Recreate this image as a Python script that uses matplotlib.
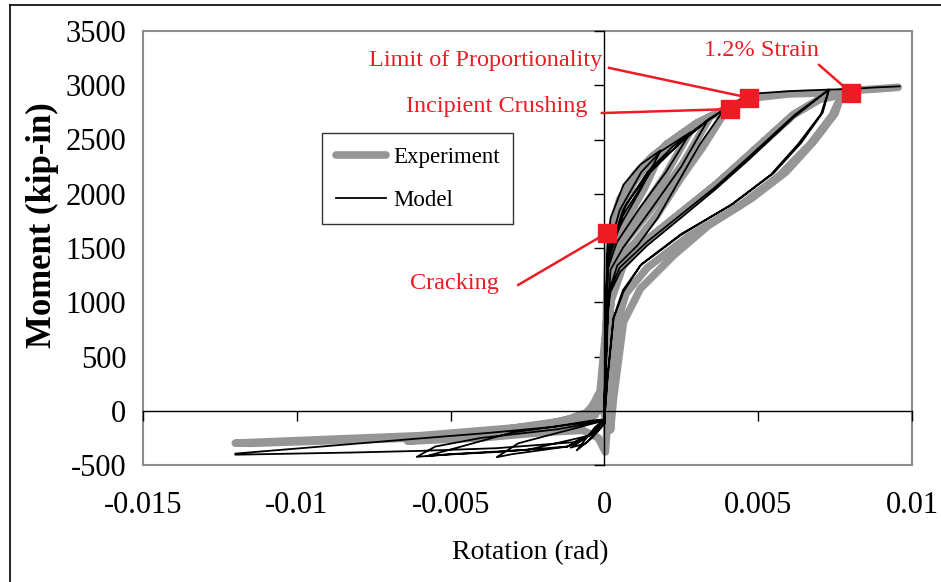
import numpy as np
import matplotlib
matplotlib.use("Agg")
import matplotlib.pyplot as plt
from matplotlib.lines import Line2D

# experiment path (rotation in rad, moment in kip-in)
exp_rot = [0, 0.00005, 0.0001, 0.0002, 0.0005, 0.001, 0.0015, 0.0019,
           0.0013, 0.0007, 0.0002, 0.0001, 0.00003,
           -0.0002, -0.0006, -0.0012, -0.0016, -0.0008, -0.0002,
           0.0001, 0.0002, 0.0006, 0.0013, 0.0021, 0.0028,
           0.0020, 0.0011, 0.0004, 0.00015, 0.00005,
           -0.0002, -0.0005, -0.002, -0.0035, -0.002, -0.0005, -0.0001,
           0.0001, 0.0003, 0.0008, 0.0016, 0.0026, 0.0034,
           0.0026, 0.0015, 0.0005, 0.0002, 0.00005,
           -0.0002, -0.0005, -0.003, -0.0064, -0.004, -0.002, -0.0007, -0.0002, 0.00003, 0.0001,
           0.00015, 0.0004, 0.001, 0.002, 0.003, 0.0040,
           0.0032, 0.0025, 0.0017, 0.001, 0.0004, 0.00015, 0.00003,
           -0.0003, -0.001, -0.0006, -0.0001,
           0.0001, 0.0003, 0.001, 0.002, 0.003, 0.0040, 0.0047, 0.006, 0.0072, 0.0077,
           0.0074, 0.0067, 0.0057, 0.0044, 0.0027, 0.0014, 0.0007, 0.0004, 0.00015,
           0.0001, -0.0002, -0.0005, -0.0012, -0.003, -0.006, -0.012,
           -0.0115, -0.006, -0.003, -0.0012, -0.0003, 0.0001,
           0.0002, 0.0006, 0.0014, 0.0025, 0.0036, 0.0047, 0.0061, 0.0070, 0.0077,
           0.0075, 0.0068, 0.0059, 0.0048, 0.0034, 0.00225, 0.00117, 0.00062, 0.00046, 0.00029, 0.0002,
           0.0001, 0.0002, 0.0006, 0.0015, 0.0026, 0.0037, 0.0048, 0.0062, 0.0071, 0.0077,
           0.0082, 0.0088, 0.00955]
exp_mom = [0, 700, 1300, 1650, 1950, 2180, 2330, 2420,
           2050, 1750, 1500, 800, 300,
           100, -20, -80, -110, -70, 0,
           900, 1550, 1950, 2250, 2460, 2580,
           2180, 1800, 1500, 1000, 300,
           100, -40, -130, -180, -160, -90, 50,
           900, 1700, 2050, 2350, 2570, 2690,
           2300, 1850, 1500, 1000, 300,
           100, -60, -190, -280, -250, -200, -180, -250, -380, -100,
           800, 1700, 2150, 2450, 2650, 2790,
           2430, 2150, 1800, 1550, 1380, 900, 200,
           0, -70, -50, 100,
           900, 1700, 2150, 2450, 2650, 2790, 2880, 2920, 2930, 2900,
           2720, 2460, 2170, 1890, 1600, 1320, 1080, 800, 300,
           -120, 150, -20, -90, -160, -230, -298,
           -300, -250, -190, -130, -40, 300,
           1000, 1330, 1580, 1830, 2080, 2360, 2720, 2870, 2910,
           2740, 2480, 2200, 1960, 1711, 1432, 1125, 818, 474, 102, -177,
           800, 1080, 1350, 1600, 1850, 2100, 2380, 2740, 2890, 2940,
           2955, 2965, 2981]

# model path
mod_rot = [0, 0.00003, 0.0001, 0.0002, 0.00062, 0.00117, 0.00183,
           0.0012, 0.0006, 0.00015, 0.00005, 0,
           -0.0003, -0.0009, -0.0004, 0,
           0.00005, 0.0001, 0.0005, 0.0012, 0.00183, 0.0028,
           0.0020, 0.0011, 0.0004, 0.0001, 0.00003, 0,
           -0.0012, -0.0028, -0.0035, -0.0030, -0.0012, -0.0003, 0,
           0.00005, 0.0001, 0.0006, 0.0014, 0.0022, 0.0028, 0.00336,
           0.0025, 0.0015, 0.0006, 0.0002, 0.00005, 0,
           -0.0015, -0.0040, -0.0055, -0.0061, -0.0055, -0.0035, -0.0012, -0.0003, 0,
           0.00005, 0.0001, 0.0006, 0.0015, 0.0025, 0.0033, 0.0039,
           0.0031, 0.00248, 0.00173, 0.00108, 0.00042, 0.00015, 0.00003, 0,
           -0.0006, -0.0011, -0.0006, -0.0001, 0,
           0.00005, 0.0001, 0.0007, 0.0016, 0.0026, 0.0034, 0.00404,
           0.0047, 0.006, 0.0073,
           0.00704, 0.00629, 0.00541, 0.00411, 0.00248, 0.00117, 0.00062, 0.00029, 0.0001, 0,
           -0.0004, -0.0017, -0.0038, -0.006, -0.012, -0.012, -0.0082, -0.006, -0.0035, -0.001, -0.0003, 0,
           0.0001, 0.0002, 0.00052, 0.0014, 0.00248, 0.00355, 0.00466, 0.00616, 0.0073,
           0.0071, 0.0064, 0.0055, 0.0042, 0.0025, 0.0012, 0.0006, 0.0003, 0.0001, 0,
           -0.0004, -0.0030, -0.0058, -0.0050, -0.0025, -0.0005, 0,
           0.0001, 0.0002, 0.0005, 0.0014, 0.0025, 0.0036, 0.0047, 0.0062, 0.0073,
           0.0080, 0.0088, 0.0096]
mod_mom = [0, 600, 1500, 1776, 2083, 2269, 2400,
           2050, 1750, 1500, 800, -80,
           -150, -365, -250, -120,
           900, 1450, 1850, 2200, 2390, 2567,
           2200, 1850, 1550, 1300, 500, -90,
           -180, -300, -428, -400, -330, -200, -120,
           900, 1400, 1850, 2200, 2430, 2560, 2678,
           2250, 1850, 1500, 1300, 600, -90,
           -170, -250, -330, -425, -410, -380, -330, -200, -120,
           900, 1350, 1800, 2200, 2480, 2660, 2780,
           2455, 2148, 1776, 1525, 1339, 1100, 300, -90,
           -250, -340, -300, -150, -100,
           900, 1400, 1900, 2250, 2500, 2690, 2800,
           2920, 2945, 2960,
           2734, 2455, 2176, 1897, 1618, 1339, 1097, 846, 300, -80,
           -90, -150, -205, -255, -395, -405, -385, -370, -345, -290, -200, -120,
           911, 1097, 1283, 1525, 1776, 2027, 2306, 2706, 2960,
           2750, 2470, 2190, 1910, 1630, 1350, 1110, 860, 300, -80,
           -100, -200, -420, -400, -360, -230, -120,
           950, 1130, 1320, 1560, 1810, 2060, 2340, 2730, 2960,
           2965, 2980, 2990]

# labelled points and their callouts
pt_names = ['Cracking', 'Incipient Crushing', 'Limit of Proportionality', '1.2% Strain']
pt_rot = [0.00009, 0.00407, 0.0047, 0.00802]
pt_mom = [1640, 2780, 2885, 2930]
lead_rot = [-0.0028, -0.00008, 0.00015, 0.00698]
lead_mom = [1160, 2744, 3160, 3187]
txt_rot = [-0.00486, -0.00055, -0.00008, 0.00510]
txt_mom = [1177, 2800, 3224, 3316]
txt_ha = ['center', 'right', 'right', 'center']

RED = '#ED1C24'
GRAY = '#969696'
plt.rcParams['font.family'] = ['Liberation Serif', 'DejaVu Serif']

fig = plt.figure(figsize=(9.41, 5.82), dpi=100)
pos = [143/941, 117/582, 769/941, 434/582]

# frame axes: gray box and tick labels at the edges
axf = fig.add_axes(pos)
axf.set_xlim(-0.015, 0.01)
axf.set_ylim(-500, 3500)
axf.set_xticks([-0.015, -0.01, -0.005, 0, 0.005, 0.01])
axf.set_xticklabels(['-0.015', '-0.01', '-0.005', '0', '0.005', '0.01'])
axf.set_yticks(np.arange(-500, 3501, 500))
axf.set_yticklabels([str(v) for v in range(-500, 3501, 500)])
axf.tick_params(length=0, labelsize=22)
axf.tick_params(axis='x', pad=19)
axf.tick_params(axis='y', pad=12)
for s in axf.spines.values():
    s.set_color('#8c8c8c')
    s.set_linewidth(1.5)

# data axes with axis lines through the origin
ax = fig.add_axes(pos, facecolor='none')
ax.set_xlim(-0.015, 0.01)
ax.set_ylim(-500, 3500)
ax.spines['left'].set_position(('data', 0))
ax.spines['bottom'].set_position(('data', 0))
ax.spines['top'].set_visible(False)
ax.spines['right'].set_visible(False)
ax.spines['left'].set_linewidth(1.0)
ax.spines['bottom'].set_linewidth(1.0)
ax.set_xticks([-0.015, -0.01, -0.005, 0, 0.005, 0.01])
ax.set_yticks(np.arange(-500, 3501, 500))
ax.tick_params(direction='out', length=7, width=1, labelleft=False, labelbottom=False)

ax.plot(exp_rot, exp_mom, color=GRAY, lw=5.5, solid_capstyle='round', solid_joinstyle='round', zorder=2)
ax.plot(mod_rot, mod_mom, color='black', lw=1.3, zorder=3)

for i in range(len(pt_names)):
    ax.plot([lead_rot[i], pt_rot[i]], [lead_mom[i], pt_mom[i]], color=RED, lw=1.8, zorder=4)
    ax.text(txt_rot[i], txt_mom[i], pt_names[i], color=RED, fontsize=17.5,
            ha=txt_ha[i], va='center')
ax.plot(pt_rot, pt_mom, 's', color=RED, ms=13.5, zorder=5)

handles = [Line2D([], [], color=GRAY, lw=5.5, solid_capstyle='round'),
           Line2D([], [], color='black', lw=1.3)]
leg = fig.legend(handles, ['Experiment', 'Model'], loc='upper left',
                 bbox_to_anchor=(322/941, 1 - 133/582), fontsize=16.5,
                 frameon=True, fancybox=False, borderpad=0.6, labelspacing=0.95,
                 handlelength=2.2, handletextpad=0.3, borderaxespad=0)
leg.get_frame().set_edgecolor('black')
leg.get_frame().set_linewidth(1.0)

fig.text(42/941, 1 - 225/582, 'Moment (kip-in)', rotation=90, fontsize=25,
         fontweight='bold', ha='center', va='center')
fig.text(530/941, 1 - 553/582, 'Rotation (rad)', fontsize=20, ha='center', va='center')

# outer border of the original chart
fig.add_artist(Line2D([10/941, 10/941], [0, 1 - 5/582], color='black', lw=1.2))
fig.add_artist(Line2D([10/941, 1], [1 - 5/582, 1 - 5/582], color='black', lw=1.2))

fig.savefig('out.png', dpi=100, facecolor='white')
